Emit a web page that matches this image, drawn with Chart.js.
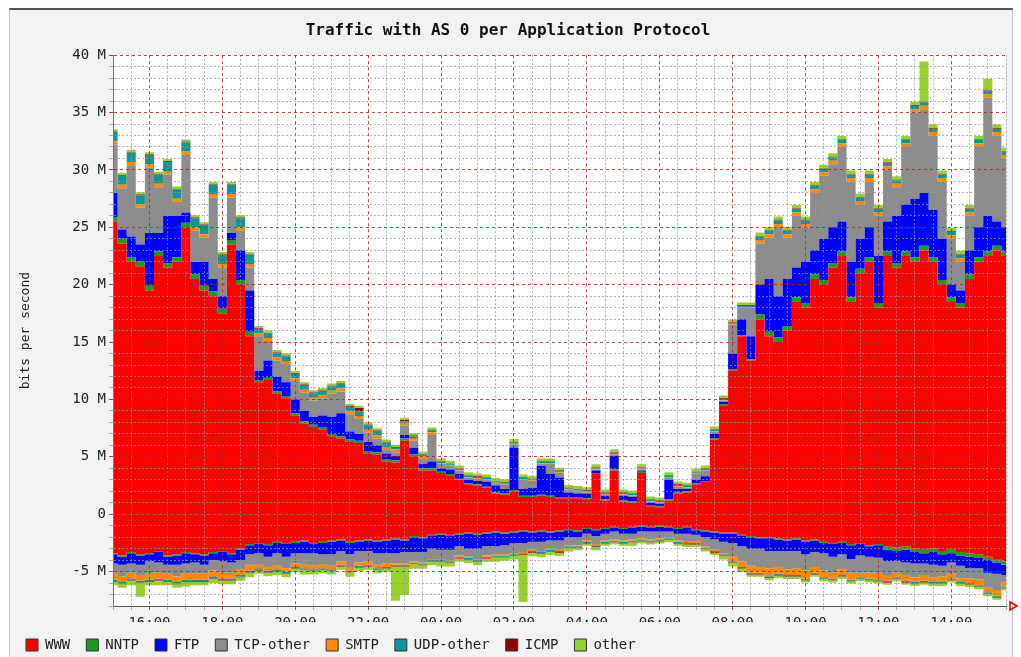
<!DOCTYPE html>
<html>
<head>
<meta charset="utf-8">
<title>Traffic with AS 0 per Application Protocol</title>
<script src="https://cdn.jsdelivr.net/npm/chart.js@4.4.1/dist/chart.umd.min.js"></script>
<style>
  html, body { margin: 0; padding: 0; background: #fff; overflow: hidden; }
  #frame {
    position: absolute; left: 9px; top: 8px; width: 1002px; height: 649px;
    background: #f2f2f2; border-top: 2px solid #555;
    border-left: 1px solid #c4c4c4; border-right: 1px solid #c4c4c4;
  }
  #wrap { position: absolute; left: 0; top: 0; width: 1021px; height: 657px; }
</style>
</head>
<body>
<div id="frame"></div>
<div id="wrap"><canvas id="traffic" width="1021" height="657"></canvas></div>
<script>
// 15 minute slots, 15:00 -> 15:30 next day
const times = [
  '15:00','15:15','15:30','15:45','16:00','16:15','16:30','16:45','17:00','17:15','17:30','17:45',
  '18:00','18:15','18:30','18:45','19:00','19:15','19:30','19:45','20:00','20:15','20:30','20:45',
  '21:00','21:15','21:30','21:45','22:00','22:15','22:30','22:45','23:00','23:15','23:30','23:45',
  '00:00','00:15','00:30','00:45','01:00','01:15','01:30','01:45','02:00','02:15','02:30','02:45',
  '03:00','03:15','03:30','03:45','04:00','04:15','04:30','04:45','05:00','05:15','05:30','05:45',
  '06:00','06:15','06:30','06:45','07:00','07:15','07:30','07:45','08:00','08:15','08:30','08:45',
  '09:00','09:15','09:30','09:45','10:00','10:15','10:30','10:45','11:00','11:15','11:30','11:45',
  '12:00','12:15','12:30','12:45','13:00','13:15','13:30','13:45','14:00','14:15','14:30','14:45',
  '15:00','15:15','15:30'
];
const hourLabels = ['16:00','18:00','20:00','22:00','00:00','02:00','04:00','06:00','08:00','10:00','12:00','14:00'];

// incoming traffic, Mbit/s
const wwwIn = [
  25.5, 23.6, 22.0, 21.6, 19.5, 22.5, 21.5, 22.0, 25.0, 20.5,
  19.5, 19.0, 17.5, 23.5, 20.0, 15.5, 11.5, 11.7, 10.5, 10.1,
  8.6, 7.9, 7.6, 7.4, 6.8, 6.6, 6.3, 6.2, 5.3, 5.2,
  4.6, 4.5, 6.4, 5.0, 3.8, 3.8, 3.6, 3.4, 3.0, 2.6,
  2.5, 2.3, 1.8, 1.7, 2.0, 1.5, 1.5, 1.6, 1.5, 1.4,
  1.4, 1.4, 1.3, 3.5, 1.2, 3.8, 1.1, 1.0, 3.6, 0.7,
  0.6, 1.2, 1.8, 1.9, 2.6, 2.8, 6.5, 9.5, 12.5, 15.5,
  13.4, 17.0, 15.5, 15.0, 16.0, 18.5, 18.0, 20.5, 20.0, 21.5,
  22.5, 18.5, 21.0, 22.0, 18.0, 22.5, 21.5, 22.5, 22.0, 23.0,
  22.0, 20.0, 18.5, 18.0, 20.5, 22.0, 22.5, 23.0, 22.5
];
const nntpIn = [
  0.4, 0.4, 0.4, 0.4, 0.4, 0.4, 0.4, 0.4, 0.4, 0.4,
  0.4, 0.4, 0.4, 0.4, 0.4, 0.4, 0.2, 0.2, 0.2, 0.2,
  0.2, 0.2, 0.2, 0.2, 0.2, 0.2, 0.2, 0.2, 0.2, 0.2,
  0.2, 0.2, 0.2, 0.2, 0.2, 0.2, 0.1, 0.1, 0.1, 0.1,
  0.1, 0.1, 0.1, 0.1, 0.1, 0.1, 0.1, 0.1, 0.1, 0.1,
  0.1, 0.1, 0.1, 0.1, 0.1, 0.1, 0.1, 0.1, 0.1, 0.1,
  0.1, 0.1, 0.1, 0.1, 0.1, 0.1, 0.1, 0.1, 0.1, 0.1,
  0.1, 0.4, 0.4, 0.4, 0.4, 0.4, 0.4, 0.4, 0.4, 0.4,
  0.4, 0.4, 0.4, 0.4, 0.4, 0.4, 0.4, 0.4, 0.4, 0.4,
  0.4, 0.4, 0.4, 0.4, 0.4, 0.4, 0.4, 0.4, 0.4
];
const ftpIn = [
  2.1, 0.8, 1.8, 1.5, 4.6, 1.6, 4.1, 3.6, 0.9, 1.1,
  2.1, 1.1, 1.1, 0.6, 2.6, 3.6, 0.8, 1.5, 1.3, 1.2,
  1.2, 0.9, 0.7, 1.0, 1.5, 2.0, 0.7, 0.6, 0.8, 0.6,
  0.5, 0.4, 0.3, 0.6, 0.4, 0.6, 0.3, 0.4, 0.4, 0.3,
  0.3, 0.4, 0.6, 0.4, 3.7, 0.6, 0.7, 2.5, 1.9, 1.7,
  0.4, 0.3, 0.4, 0.2, 0.3, 1.2, 0.4, 0.4, 0.1, 0.2,
  0.2, 1.7, 0.3, 0.2, 0.3, 0.4, 0.4, 0.2, 1.4, 1.4,
  2.0, 2.6, 4.6, 3.6, 4.1, 2.6, 3.6, 2.1, 3.6, 3.1,
  2.6, 3.1, 2.6, 2.6, 4.1, 2.6, 4.1, 4.1, 5.1, 4.6,
  4.1, 3.6, 1.1, 1.1, 2.1, 2.6, 3.1, 2.1, 2.1
];
const tcpIn = [
  4.2, 3.6, 6.2, 3.2, 5.7, 4.0, 3.6, 1.2, 5.0, 2.7,
  2.1, 7.1, 2.5, 3.1, 1.7, 2.0, 3.0, 1.7, 1.4, 1.6,
  1.6, 1.6, 1.4, 1.5, 2.0, 1.9, 1.5, 1.3, 0.8, 0.6,
  0.3, 0.3, 0.8, 0.6, 0.4, 2.3, 0.4, 0.3, 0.3, 0.2,
  0.2, 0.2, 0.2, 0.4, 0.3, 0.8, 0.6, 0.2, 0.9, 0.4,
  0.2, 0.2, 0.1, 0.1, 0.1, 0.1, 0.1, 0.1, 0.1, 0.1,
  0.1, 0.2, 0.2, 0.1, 0.5, 0.5, 0.2, 0.1, 2.5, 1.0,
  2.5, 3.6, 3.6, 6.0, 3.6, 4.5, 3.0, 5.0, 5.5, 5.5,
  6.5, 7.0, 3.0, 4.0, 3.5, 4.5, 2.5, 5.0, 7.5, 7.3,
  6.5, 5.0, 4.0, 2.5, 3.0, 7.0, 10.3, 7.5, 6.0
];
const smtpIn = [
  0.3, 0.3, 0.3, 0.3, 0.3, 0.3, 0.3, 0.3, 0.3, 0.3,
  0.3, 0.3, 0.3, 0.3, 0.3, 0.3, 0.25, 0.25, 0.25, 0.25,
  0.25, 0.25, 0.25, 0.25, 0.25, 0.25, 0.25, 0.25, 0.25, 0.25,
  0.25, 0.25, 0.25, 0.25, 0.25, 0.25, 0.05, 0.05, 0.05, 0.05,
  0.05, 0.05, 0.05, 0.05, 0.05, 0.05, 0.05, 0.05, 0.05, 0.05,
  0.05, 0.05, 0.05, 0.05, 0.05, 0.05, 0.05, 0.05, 0.05, 0.05,
  0.05, 0.05, 0.05, 0.05, 0.05, 0.05, 0.05, 0.05, 0.05, 0.05,
  0.05, 0.3, 0.3, 0.3, 0.3, 0.3, 0.3, 0.3, 0.3, 0.3,
  0.3, 0.3, 0.3, 0.3, 0.3, 0.3, 0.3, 0.3, 0.3, 0.3,
  0.3, 0.3, 0.3, 0.3, 0.3, 0.3, 0.3, 0.3, 0.3
];
const udpIn = [
  0.8, 0.8, 0.8, 0.8, 0.8, 0.8, 0.8, 0.8, 0.8, 0.8,
  0.8, 0.8, 0.8, 0.8, 0.8, 0.8, 0.4, 0.4, 0.4, 0.4,
  0.4, 0.4, 0.4, 0.4, 0.4, 0.4, 0.4, 0.4, 0.4, 0.4,
  0.4, 0.15, 0.15, 0.15, 0.15, 0.15, 0.1, 0.1, 0.1, 0.1,
  0.1, 0.1, 0.1, 0.1, 0.1, 0.1, 0.1, 0.1, 0.1, 0.1,
  0.1, 0.1, 0.1, 0.1, 0.1, 0.1, 0.1, 0.1, 0.1, 0.1,
  0.1, 0.1, 0.1, 0.1, 0.1, 0.1, 0.1, 0.1, 0.1, 0.1,
  0.1, 0.3, 0.3, 0.3, 0.3, 0.3, 0.3, 0.3, 0.3, 0.3,
  0.3, 0.3, 0.3, 0.3, 0.3, 0.3, 0.3, 0.3, 0.3, 0.3,
  0.3, 0.3, 0.3, 0.3, 0.3, 0.3, 0.3, 0.3, 0.3
];
const icmpIn = [
  0.05, 0.05, 0.05, 0.05, 0.05, 0.05, 0.05, 0.05, 0.05, 0.05,
  0.05, 0.05, 0.05, 0.05, 0.05, 0.05, 0.05, 0.05, 0.05, 0.05,
  0.05, 0.05, 0.05, 0.05, 0.05, 0.05, 0.05, 0.3, 0.05, 0.05,
  0.05, 0.05, 0.1, 0.05, 0.05, 0.05, 0.05, 0.05, 0.05, 0.05,
  0.05, 0.05, 0.05, 0.05, 0.05, 0.05, 0.05, 0.05, 0.05, 0.05,
  0.05, 0.05, 0.05, 0.05, 0.05, 0.05, 0.05, 0.05, 0.05, 0.05,
  0.05, 0.05, 0.05, 0.05, 0.05, 0.05, 0.05, 0.05, 0.05, 0.05,
  0.05, 0.05, 0.05, 0.05, 0.05, 0.05, 0.05, 0.05, 0.05, 0.05,
  0.05, 0.05, 0.05, 0.05, 0.05, 0.05, 0.05, 0.05, 0.05, 0.05,
  0.05, 0.05, 0.05, 0.05, 0.05, 0.05, 0.05, 0.05, 0.05
];
const otherIn = [
  0.2, 0.2, 0.2, 0.2, 0.2, 0.2, 0.2, 0.2, 0.2, 0.2,
  0.2, 0.2, 0.2, 0.2, 0.2, 0.2, 0.2, 0.2, 0.2, 0.2,
  0.2, 0.2, 0.2, 0.2, 0.2, 0.2, 0.2, 0.2, 0.2, 0.2,
  0.2, 0.2, 0.2, 0.2, 0.2, 0.2, 0.25, 0.25, 0.25, 0.25,
  0.25, 0.25, 0.25, 0.25, 0.25, 0.25, 0.25, 0.25, 0.25, 0.25,
  0.25, 0.25, 0.25, 0.25, 0.25, 0.25, 0.25, 0.25, 0.25, 0.25,
  0.25, 0.25, 0.25, 0.25, 0.25, 0.25, 0.25, 0.25, 0.25, 0.25,
  0.25, 0.3, 0.3, 0.3, 0.3, 0.3, 0.3, 0.3, 0.3, 0.3,
  0.3, 0.3, 0.3, 0.3, 0.3, 0.3, 0.3, 0.3, 0.3, 3.5,
  0.3, 0.3, 0.3, 0.3, 0.3, 0.3, 1.0, 0.3, 0.3
];

// outgoing traffic, Mbit/s (drawn below zero)
const wwwOut = [
  -3.4, -3.6, -3.3, -3.5, -3.4, -3.2, -3.6, -3.5, -3.3, -3.4,
  -3.5, -3.3, -3.2, -3.4, -3.0, -2.6, -2.5, -2.6, -2.4, -2.5,
  -2.4, -2.3, -2.5, -2.4, -2.3, -2.2, -2.4, -2.3, -2.2, -2.3,
  -2.2, -2.1, -2.2, -1.9, -2.0, -1.8, -1.7, -1.8, -1.7, -1.6,
  -1.7, -1.6, -1.5, -1.6, -1.5, -1.4, -1.5, -1.4, -1.5, -1.4,
  -1.3, -1.4, -1.2, -1.3, -1.2, -1.1, -1.2, -1.1, -1.0, -1.1,
  -1.0, -1.1, -1.2, -1.1, -1.3, -1.4, -1.5, -1.6, -1.6, -1.8,
  -1.9, -2.0, -2.0, -2.1, -2.2, -2.1, -2.3, -2.2, -2.4, -2.5,
  -2.4, -2.6, -2.5, -2.7, -2.6, -2.8, -2.9, -2.8, -3.0, -3.1,
  -3.0, -3.2, -3.1, -3.3, -3.4, -3.5, -3.7, -3.9, -4.1
];
const nntpOut = [
  -0.1, -0.1, -0.1, -0.1, -0.1, -0.1, -0.1, -0.1, -0.1, -0.1,
  -0.1, -0.1, -0.1, -0.1, -0.1, -0.1, -0.1, -0.1, -0.1, -0.1,
  -0.1, -0.1, -0.1, -0.1, -0.1, -0.1, -0.1, -0.1, -0.1, -0.1,
  -0.1, -0.1, -0.1, -0.1, -0.1, -0.1, -0.1, -0.1, -0.1, -0.1,
  -0.1, -0.1, -0.1, -0.1, -0.1, -0.1, -0.1, -0.1, -0.1, -0.1,
  -0.1, -0.1, -0.1, -0.1, -0.1, -0.1, -0.1, -0.1, -0.1, -0.1,
  -0.1, -0.1, -0.1, -0.1, -0.1, -0.1, -0.1, -0.1, -0.1, -0.1,
  -0.1, -0.1, -0.1, -0.1, -0.1, -0.1, -0.1, -0.1, -0.1, -0.1,
  -0.1, -0.1, -0.1, -0.1, -0.1, -0.3, -0.3, -0.3, -0.3, -0.3,
  -0.3, -0.3, -0.3, -0.3, -0.3, -0.3, -0.3, -0.3, -0.3
];
const ftpOut = [
  -0.8, -0.7, -0.9, -0.8, -0.6, -0.9, -0.7, -0.8, -0.9, -0.7,
  -0.8, -0.6, -0.8, -0.7, -0.9, -0.8, -0.8, -1.0, -0.9, -1.1,
  -0.9, -1.0, -0.8, -1.0, -1.1, -0.9, -1.0, -0.8, -0.9, -1.0,
  -1.1, -1.2, -1.0, -1.3, -1.2, -1.1, -1.3, -1.2, -1.0, -1.3,
  -1.2, -1.1, -1.2, -1.0, -0.9, -1.0, -0.8, -0.9, -0.7, -0.8,
  -0.6, -0.5, -0.4, -0.5, -0.4, -0.3, -0.4, -0.5, -0.4, -0.3,
  -0.4, -0.3, -0.4, -0.5, -0.4, -0.5, -0.6, -0.7, -0.8, -0.9,
  -1.0, -0.9, -1.1, -1.0, -0.9, -1.0, -1.1, -1.0, -0.9, -1.1,
  -1.0, -1.2, -1.0, -0.9, -1.1, -1.0, -0.9, -1.1, -1.0, -0.9,
  -1.1, -1.0, -0.8, -0.9, -1.0, -0.9, -1.1, -1.0, -0.9
];
const tcpOut = [
  -0.9, -1.0, -0.8, -0.9, -1.1, -0.9, -0.8, -1.0, -0.9, -1.0,
  -0.8, -0.9, -1.0, -0.9, -0.8, -0.9, -1.0, -0.9, -1.1, -1.0,
  -0.9, -1.0, -1.1, -0.9, -1.0, -0.9, -1.1, -1.0, -0.9, -1.0,
  -0.9, -0.9, -1.0, -0.8, -0.9, -0.9, -0.8, -0.9, -0.8, -0.7,
  -0.9, -0.8, -0.7, -0.8, -0.9, -0.8, -0.7, -0.8, -0.7, -0.8,
  -0.7, -0.7, -0.6, -0.7, -0.6, -0.7, -0.6, -0.5, -0.6, -0.7,
  -0.6, -0.5, -0.6, -0.7, -0.6, -0.8, -0.9, -1.0, -1.2, -1.3,
  -1.5, -1.6, -1.5, -1.4, -1.6, -1.5, -1.4, -1.3, -1.5, -1.4,
  -1.3, -1.2, -1.5, -1.4, -1.3, -1.2, -1.0, -1.1, -1.2, -1.0,
  -1.1, -0.9, -1.0, -1.1, -0.9, -1.0, -1.3, -1.4, -0.6
];
const smtpOut = [
  -0.5, -0.5, -0.5, -0.5, -0.5, -0.5, -0.5, -0.5, -0.5, -0.5,
  -0.5, -0.5, -0.5, -0.5, -0.5, -0.5, -0.3, -0.3, -0.3, -0.3,
  -0.3, -0.3, -0.3, -0.3, -0.3, -0.3, -0.3, -0.3, -0.3, -0.3,
  -0.3, -0.1, -0.1, -0.1, -0.1, -0.1, -0.1, -0.1, -0.1, -0.1,
  -0.1, -0.1, -0.1, -0.1, -0.1, -0.1, -0.1, -0.1, -0.1, -0.1,
  -0.1, -0.1, -0.1, -0.1, -0.1, -0.1, -0.1, -0.1, -0.1, -0.1,
  -0.1, -0.1, -0.1, -0.1, -0.1, -0.1, -0.1, -0.1, -0.4, -0.5,
  -0.6, -0.5, -0.7, -0.6, -0.5, -0.6, -0.7, -0.5, -0.6, -0.5,
  -0.5, -0.6, -0.4, -0.5, -0.6, -0.5, -0.4, -0.5, -0.4, -0.5,
  -0.4, -0.5, -0.4, -0.3, -0.4, -0.5, -0.4, -0.5, -0.4
];
const udpOut = [
  -0.15, -0.15, -0.15, -0.15, -0.15, -0.15, -0.15, -0.15, -0.15, -0.15,
  -0.15, -0.15, -0.15, -0.15, -0.15, -0.15, -0.15, -0.15, -0.15, -0.15,
  -0.1, -0.1, -0.1, -0.1, -0.1, -0.1, -0.1, -0.1, -0.1, -0.1,
  -0.1, -0.1, -0.1, -0.1, -0.1, -0.1, -0.1, -0.1, -0.1, -0.1,
  -0.1, -0.1, -0.1, -0.1, -0.1, -0.1, -0.1, -0.1, -0.1, -0.1,
  -0.1, -0.1, -0.1, -0.1, -0.1, -0.1, -0.1, -0.1, -0.1, -0.1,
  -0.1, -0.1, -0.1, -0.1, -0.1, -0.1, -0.1, -0.1, -0.1, -0.1,
  -0.1, -0.1, -0.1, -0.1, -0.1, -0.1, -0.1, -0.1, -0.1, -0.1,
  -0.1, -0.1, -0.1, -0.1, -0.1, -0.1, -0.1, -0.1, -0.1, -0.1,
  -0.1, -0.1, -0.1, -0.1, -0.1, -0.1, -0.1, -0.1, -0.1
];
const icmpOut = [
  -0.05, -0.05, -0.05, -0.05, -0.05, -0.05, -0.05, -0.05, -0.05, -0.05,
  -0.05, -0.05, -0.05, -0.05, -0.05, -0.05, -0.05, -0.05, -0.05, -0.05,
  -0.05, -0.05, -0.05, -0.05, -0.05, -0.05, -0.05, -0.05, -0.05, -0.05,
  -0.05, -0.05, -0.05, -0.05, -0.05, -0.05, -0.05, -0.05, -0.05, -0.05,
  -0.05, -0.05, -0.05, -0.05, -0.05, -0.05, -0.05, -0.05, -0.05, -0.05,
  -0.05, -0.05, -0.05, -0.05, -0.05, -0.05, -0.05, -0.05, -0.05, -0.05,
  -0.05, -0.05, -0.05, -0.05, -0.05, -0.05, -0.05, -0.05, -0.05, -0.05,
  -0.05, -0.05, -0.05, -0.05, -0.05, -0.05, -0.05, -0.05, -0.05, -0.05,
  -0.05, -0.05, -0.05, -0.05, -0.05, -0.05, -0.05, -0.05, -0.05, -0.05,
  -0.05, -0.05, -0.05, -0.05, -0.05, -0.05, -0.05, -0.05, -0.05
];
const otherOut = [
  -0.3, -0.3, -0.4, -1.2, -0.3, -0.4, -0.3, -0.3, -0.4, -0.3,
  -0.3, -0.4, -0.3, -0.3, -0.3, -0.4, -0.3, -0.3, -0.3, -0.3,
  -0.3, -0.4, -0.3, -0.3, -0.3, -0.3, -0.4, -0.3, -0.3, -0.3,
  -0.3, -3.0, -2.5, -0.4, -0.3, -0.3, -0.4, -0.3, -0.3, -0.3,
  -0.3, -0.3, -0.4, -0.3, -0.3, -4.1, -0.3, -0.3, -0.3, -0.3,
  -0.3, -0.2, -0.2, -0.3, -0.2, -0.2, -0.2, -0.3, -0.2, -0.2,
  -0.2, -0.2, -0.2, -0.2, -0.2, -0.2, -0.2, -0.3, -0.3, -0.3,
  -0.2, -0.2, -0.2, -0.2, -0.2, -0.2, -0.2, -0.2, -0.2, -0.2,
  -0.2, -0.2, -0.2, -0.2, -0.2, -0.2, -0.2, -0.2, -0.2, -0.2,
  -0.2, -0.2, -0.2, -0.2, -0.2, -0.2, -0.2, -0.2, -0.2
];

const protocols = ['WWW', 'NNTP', 'FTP', 'TCP-other', 'SMTP', 'UDP-other', 'ICMP', 'other'];
const colors = ['#ff0000', '#1f9a1f', '#0000ff', '#8c8c8c', '#ff8a00', '#109494', '#8e0000', '#98d02c'];
const inSeries = [wwwIn, nntpIn, ftpIn, tcpIn, smtpIn, udpIn, icmpIn, otherIn];
const outSeries = [wwwOut, nntpOut, ftpOut, tcpOut, smtpOut, udpOut, icmpOut, otherOut];

const mono = 'DejaVu Sans Mono';

function makeSet(label, values, color, stack, first) {
  return {
    label: label,
    data: values,
    stack: stack,
    backgroundColor: color,
    borderColor: 'transparent',
    borderWidth: 0,
    pointRadius: 0,
    stepped: 'middle',
    fill: first ? 'origin' : '-1'
  };
}

const datasets = [];
inSeries.forEach((arr, i) => datasets.push(makeSet(protocols[i], arr, colors[i], 'in', i === 0)));
outSeries.forEach((arr, i) => datasets.push(makeSet(protocols[i] + ' out', arr, colors[i], 'out', i === 0)));

const plotBg = {
  id: 'plotBg',
  beforeDraw(chart) {
    const a = chart.chartArea, c = chart.ctx;
    c.save();
    c.fillStyle = '#ffffff';
    c.fillRect(a.left, a.top, a.right - a.left, a.bottom - a.top);
    c.restore();
  }
};

// small red arrow at the end of the time axis
const axisArrow = {
  id: 'axisArrow',
  afterDraw(chart) {
    const a = chart.chartArea, c = chart.ctx;
    c.save();
    c.strokeStyle = '#ee0000';
    c.lineWidth = 1.5;
    c.beginPath();
    c.moveTo(a.right + 4, a.bottom - 4);
    c.lineTo(a.right + 11, a.bottom);
    c.lineTo(a.right + 4, a.bottom + 4);
    c.closePath();
    c.stroke();
    c.restore();
  }
};

new Chart(document.getElementById('traffic'), {
  type: 'line',
  data: { labels: times, datasets: datasets },
  options: {
    responsive: false,
    animation: false,
    layout: { padding: { left: 10, right: 15, top: 9, bottom: -5 } },
    scales: {
      x: {
        grid: {
          z: 1,
          tickLength: 4,
          color: ctx => {
            const t = times[ctx.index] || '';
            if (hourLabels.includes(t)) return 'rgba(170,40,40,0.85)';
            if (t.endsWith(':00') || t.endsWith(':30')) return 'rgba(150,150,150,0.75)';
            return 'rgba(0,0,0,0)';
          }
        },
        border: {
          z: 2,
          color: '#555',
          dash: ctx => (hourLabels.includes(times[ctx.index]) ? [3, 3] : [2, 2])
        },
        ticks: {
          autoSkip: false,
          maxRotation: 0,
          padding: 5,
          color: '#222',
          font: { family: mono, size: 14 },
          callback: (v, i) => (hourLabels.includes(times[i]) ? times[i] : '')
        },
        afterFit: s => { s.height = 16; }
      },
      y: {
        stacked: true,
        min: -8,
        max: 40,
        grid: {
          z: 1,
          tickLength: 4,
          color: ctx => (ctx.tick && ctx.tick.value % 5 === 0 ? 'rgba(170,40,40,0.85)' : 'rgba(150,150,150,0.75)')
        },
        border: {
          z: 2,
          color: '#777',
          dash: ctx => (ctx.tick && ctx.tick.value % 5 === 0 ? [3, 3] : [2, 2])
        },
        ticks: {
          stepSize: 1,
          autoSkip: false,
          padding: 3,
          color: '#222',
          font: { family: mono, size: 14 },
          callback: v => (v % 5 === 0 ? (v === 0 ? '0' : v + ' M') : '')
        },
        title: {
          display: true,
          text: 'bits per second',
          color: '#222',
          font: { family: mono, size: 13 },
          padding: { top: 8, bottom: 0 }
        },
        afterFit: s => { s.width = 103; }
      }
    },
    plugins: {
      title: {
        display: true,
        text: 'Traffic with AS 0 per Application Protocol',
        color: '#111',
        font: { family: mono, size: 16, weight: 'bold' },
        padding: { top: 12, bottom: 15 }
      },
      legend: {
        position: 'bottom',
        align: 'start',
        labels: {
          boxWidth: 12,
          boxHeight: 12,
          padding: 16,
          color: '#222',
          font: { family: mono, size: 14 },
          filter: item => item.datasetIndex < protocols.length,
          generateLabels: chart => Chart.defaults.plugins.legend.labels.generateLabels(chart).map(l => {
            l.strokeStyle = '#333';
            l.lineWidth = 1;
            return l;
          })
        }
      },
      tooltip: { enabled: false }
    }
  },
  plugins: [plotBg, axisArrow]
});
</script>
</body>
</html>
